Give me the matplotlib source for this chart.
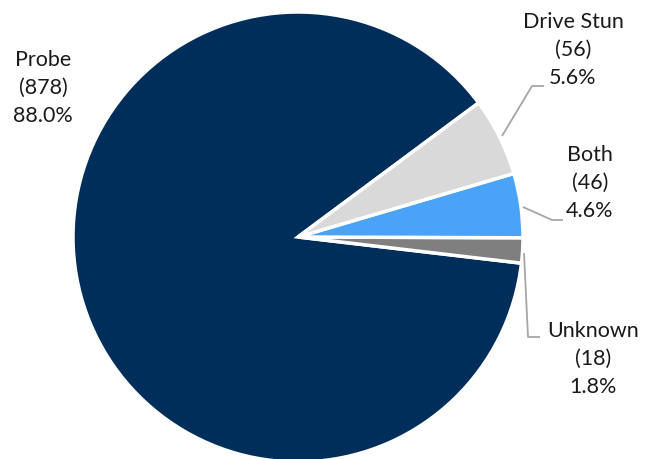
import matplotlib
matplotlib.use("Agg")
import matplotlib.pyplot as plt

categories = ["Probe", "Unknown", "Both", "Drive Stun"]
counts = [878, 18, 46, 56]
colors = ["#002E5B", "#7F7F7F", "#4BA3F7", "#D9D9D9"]

W, H = 656, 459
fig = plt.figure(figsize=(W / 100, H / 100), dpi=100)
ax = fig.add_axes([0, 0, 1, 1])

cx, cy, r = 298, H - 237, 225
total = sum(counts)
ax.pie(counts, colors=colors, startangle=36.6, counterclock=True,
       center=(cx, cy), radius=r, frame=True,
       wedgeprops=dict(edgecolor="white", linewidth=2.5))
ax.set_xlim(0, W)
ax.set_ylim(0, H)
ax.axis("off")

plt.rcParams["font.family"] = ["Lato", "DejaVu Sans"]

label_pos = {
    "Probe": (43, 88),
    "Drive Stun": (573, 50),
    "Both": (590, 183),
    "Unknown": (593, 359),
}
leaders = {
    "Drive Stun": [(502, 136), (532, 86), (544, 86)],
    "Both": [(523, 207), (552, 220), (563, 220)],
    "Unknown": [(524, 253), (528, 337), (540, 337)],
}

for name, n in zip(categories, counts):
    pct = 100 * n / total
    x, y = label_pos[name]
    ax.text(x, H - y, f"{name}\n({n})\n{pct:.1f}%", ha="center", va="center",
            fontsize=15.5, color="#1a1a1a", linespacing=1.5)
    if name in leaders:
        pts = leaders[name]
        ax.plot([p[0] for p in pts], [H - p[1] for p in pts],
                color="#A6A6A6", lw=1.3, solid_capstyle="butt")

fig.savefig("out.png", dpi=100)
